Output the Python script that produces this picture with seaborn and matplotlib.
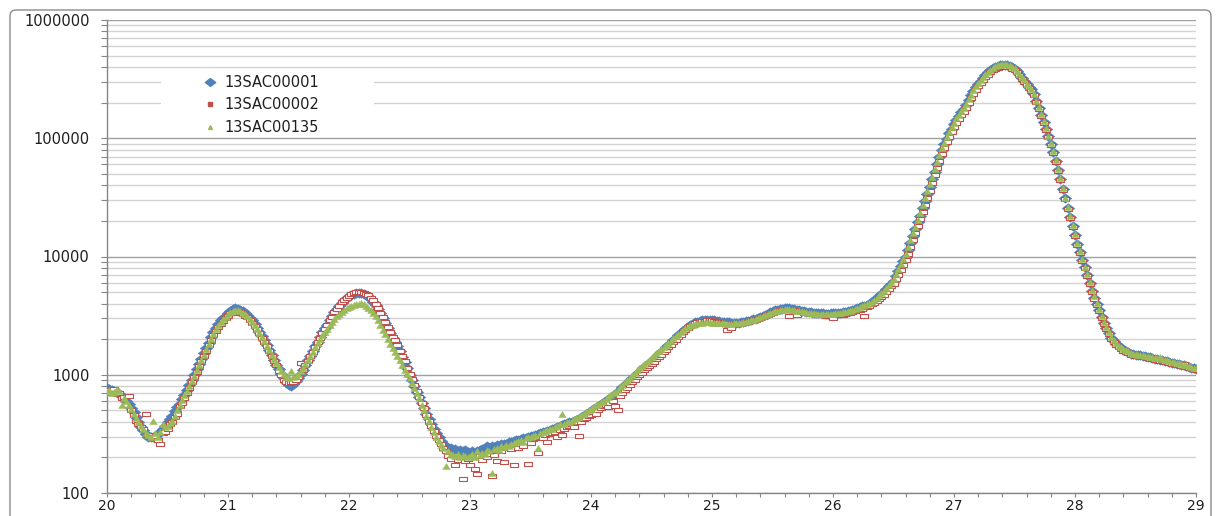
import numpy as np
import matplotlib
matplotlib.use("Agg")
import matplotlib.pyplot as plt
import seaborn as sns
from matplotlib.path import Path
from matplotlib.lines import Line2D
from matplotlib.patches import Rectangle, FancyBboxPatch
from matplotlib.transforms import IdentityTransform
from matplotlib.ticker import LogLocator, MultipleLocator, FuncFormatter, NullFormatter

# x grid (2-theta), one reading every 0.02
two_theta = np.round(np.linspace(20, 29, 451), 2)

series_names = ["13SAC00001", "13SAC00002", "13SAC00135"]

sac00001 = [
    770, 760, 745, 735, 715, 690, 660, 630, 600, 565,
    520, 480, 440, 400, 365, 340, 315, 300, 295, 300,
    305, 315, 325, 345, 370, 395, 420, 450, 490, 530,
    570, 620, 680, 740, 820, 900, 1000, 1110, 1240, 1370,
    1520, 1680, 1870, 2080, 2300, 2500, 2700, 2880, 3020, 3150,
    3300, 3450, 3580, 3650, 3620, 3550, 3430, 3300, 3180, 3030,
    2900, 2700, 2500, 2300, 2130, 1950, 1790, 1620, 1480, 1340,
    1220, 1110, 1020, 940, 870, 825, 810, 840, 880, 940,
    1010, 1100, 1200, 1320, 1450, 1590, 1740, 1910, 2100, 2300,
    2480, 2650, 2900, 3150, 3400, 3600, 3850, 4050, 4250, 4450,
    4600, 4720, 4820, 4900, 4950, 4920, 4850, 4750, 4600, 4400,
    4150, 3900, 3600, 3300, 3000, 2750, 2500, 2250, 2050, 1900,
    1750, 1580, 1420, 1270, 1130, 1000, 900, 810, 720, 650,
    580, 520, 470, 420, 380, 350, 320, 295, 275, 262,
    250, 242, 238, 232, 236, 228, 232, 225, 230, 222,
    218, 225, 215, 228, 232, 235, 242, 248, 240, 250,
    245, 255, 250, 262, 258, 262, 270, 268, 276, 282,
    280, 288, 292, 290, 300, 305, 302, 312, 318, 322,
    326, 330, 336, 342, 348, 352, 360, 366, 375, 380,
    388, 395, 400, 410, 418, 425, 436, 448, 462, 478,
    495, 510, 528, 545, 562, 580, 600, 620, 640, 660,
    685, 715, 750, 785, 820, 855, 895, 935, 975, 1020,
    1060, 1110, 1160, 1205, 1250, 1300, 1360, 1420, 1490, 1550,
    1620, 1700, 1780, 1870, 1960, 2050, 2150, 2250, 2350, 2450,
    2550, 2640, 2710, 2770, 2820, 2860, 2880, 2900, 2920, 2910,
    2900, 2890, 2860, 2840, 2820, 2800, 2780, 2770, 2760, 2750,
    2750, 2760, 2780, 2800, 2830, 2860, 2900, 2940, 2980, 3020,
    3070, 3140, 3210, 3290, 3370, 3440, 3500, 3560, 3600, 3630,
    3650, 3660, 3650, 3620, 3590, 3550, 3520, 3480, 3450, 3420,
    3400, 3380, 3360, 3340, 3320, 3310, 3300, 3290, 3290, 3300,
    3300, 3310, 3320, 3340, 3370, 3400, 3440, 3490, 3540, 3590,
    3650, 3710, 3780, 3850, 3920, 4000, 4120, 4260, 4420, 4600,
    4800, 5050, 5350, 5650, 5900, 6200, 6800, 7500, 8300, 9100,
    10000, 11400, 13000, 14900, 17000, 19500, 22000, 25500, 29500, 34000,
    39000, 45000, 52000, 60000, 69000, 79000, 89000, 99000, 110000, 120000,
    131000, 143000, 154000, 166000, 177000, 190000, 210000, 230000, 250000, 270000,
    288000, 305000, 325000, 345000, 360000, 375000, 390000, 402000, 410000, 416000,
    418000, 419000, 416000, 410000, 400000, 385000, 368000, 348000, 325000, 305000,
    285000, 270000, 260000, 235000, 205000, 180000, 157000, 137000, 120000, 104000,
    90000, 77000, 64000, 54000, 45000, 37000, 31000, 25500, 21500, 18000,
    15200, 12800, 11000, 9400, 8100, 7000, 6000, 5100, 4500, 4000,
    3550, 3100, 2750, 2480, 2250, 2060, 1920, 1820, 1740, 1680,
    1630, 1590, 1560, 1510, 1500, 1480, 1470, 1460, 1445, 1430,
    1420, 1400, 1390, 1370, 1360, 1340, 1330, 1310, 1300, 1280,
    1265, 1250, 1240, 1225, 1215, 1200, 1185, 1170, 1150, 1130,
    1110,
]

sac00002 = [
    740, 720, 700, 760, 690, 700, 640, 650, 560, 660,
    500, 460, 410, 380, 365, 350, 465, 310, 300, 290,
    300, 280, 262, 320, 330, 350, 380, 400, 440, 470,
    540, 580, 640, 700, 780, 860, 960, 1060, 1180, 1300,
    1450, 1600, 1780, 1950, 2150, 2350, 2550, 2700, 2850, 3000,
    3150, 3300, 3400, 3350, 3300, 3380, 3250, 3150, 3050, 2900,
    2750, 2600, 2450, 2250, 2050, 1900, 1750, 1600, 1450, 1300,
    1200, 1080, 990, 900, 860, 850, 860, 870, 900, 960,
    1250, 1100, 1200, 1300, 1430, 1560, 1720, 1880, 2060, 2250,
    2450, 2650, 2900, 3100, 3380, 3600, 3850, 4100, 4300, 4500,
    4650, 4800, 4900, 5000, 5050, 5000, 4950, 4850, 4700, 4500,
    4250, 3950, 3650, 3350, 3050, 2800, 2550, 2300, 2100, 1950,
    1780, 1600, 1450, 1300, 1150, 1020, 920, 820, 730, 650,
    580, 520, 460, 410, 370, 335, 305, 280, 260, 240,
    225, 205, 195, 210, 173, 190, 200, 131, 185, 195,
    173, 200, 160, 145, 205, 190, 210, 200, 215, 139,
    210, 187, 230, 225, 183, 240, 250, 235, 172, 255,
    240, 260, 250, 270, 175, 265, 285, 290, 218, 300,
    290, 310, 270, 315, 320, 330, 300, 340, 310, 350,
    360, 370, 380, 360, 395, 303, 400, 420, 430, 445,
    460, 480, 470, 500, 520, 540, 560, 530, 580, 600,
    540, 500, 660, 700, 740, 780, 820, 860, 900, 950,
    1000, 1040, 1090, 1140, 1190, 1240, 1290, 1350, 1410, 1480,
    1550, 1620, 1700, 1790, 1880, 1970, 2080, 2180, 2280, 2380,
    2480, 2580, 2660, 2730, 2780, 2820, 2850, 2870, 2880, 2890,
    2880, 2860, 2820, 2780, 2750, 2720, 2400, 2650, 2500, 2700,
    2680, 2690, 2710, 2740, 2770, 2800, 2840, 2880, 2920, 2960,
    3000, 3060, 3130, 3200, 3280, 3340, 3400, 3450, 3500, 3530,
    3550, 3560, 3160, 3540, 3500, 3200, 3450, 3400, 3350, 3320,
    3300, 3280, 3250, 3220, 3200, 3180, 3170, 3160, 3150, 3150,
    3000, 3170, 3180, 3200, 3230, 3260, 3300, 3340, 3390, 3440,
    3500, 3560, 3620, 3150, 3760, 3840, 3940, 4050, 4180, 4350,
    4520, 4750, 5000, 5300, 5600, 5900, 6400, 7000, 7700, 8500,
    9300, 10600, 12100, 13900, 15900, 18200, 20600, 23800, 27500, 31500,
    36000, 42000, 48500, 56000, 64000, 73000, 83000, 93000, 103000, 113000,
    124000, 135000, 146000, 157000, 168000, 180000, 198000, 218000, 238000, 258000,
    276000, 294000, 312000, 330000, 346000, 362000, 376000, 388000, 396000, 402000,
    404000, 405000, 402000, 397000, 388000, 375000, 360000, 342000, 320000, 300000,
    282000, 266000, 252000, 230000, 202000, 177000, 155000, 135000, 118000, 102000,
    88000, 75000, 63000, 53000, 44000, 36500, 30500, 25000, 21000, 17800,
    15000, 12600, 10800, 9200, 8000, 6900, 5900, 5000, 4400, 3900,
    3450, 3000, 2700, 2450, 2200, 2020, 1880, 1780, 1700, 1640,
    1590, 1560, 1530, 1480, 1470, 1450, 1440, 1430, 1400, 1420,
    1390, 1370, 1380, 1340, 1330, 1310, 1320, 1280, 1270, 1250,
    1240, 1230, 1210, 1200, 1190, 1230, 1170, 1150, 1130, 1110,
    1100,
]

sac00135 = [
    720, 740, 700, 710, 760, 730, 550, 640, 600, 560,
    510, 470, 430, 400, 370, 345, 320, 310, 300, 410,
    320, 300, 330, 380, 360, 370, 390, 410, 450, 500,
    560, 610, 670, 730, 810, 880, 980, 1090, 1210, 1340,
    1480, 1640, 1820, 2020, 2230, 2420, 2620, 2800, 2950, 3100,
    3250, 3380, 3480, 3520, 3500, 3450, 3350, 3240, 3120, 2980,
    2820, 2640, 2450, 2260, 2080, 1920, 1760, 1620, 1480, 1360,
    1250, 1160, 1080, 1010, 960, 940, 1070, 950, 980, 1020,
    1080, 1150, 1240, 1340, 1450, 1570, 1700, 1840, 1990, 2150,
    2300, 2450, 2620, 2800, 2960, 3120, 3280, 3420, 3550, 3650,
    3750, 3830, 3900, 3950, 3980, 4030, 3950, 3850, 3700, 3550,
    3350, 3150, 2900, 2650, 2400, 2200, 2000, 1820, 1680, 1560,
    1440, 1320, 1200, 1100, 1010, 930, 850, 770, 700, 630,
    560, 500, 450, 405, 365, 330, 300, 275, 255, 240,
    170, 225, 215, 210, 205, 215, 200, 210, 205, 200,
    205, 215, 200, 225, 210, 220, 215, 230, 225, 148,
    235, 240, 230, 250, 245, 255, 250, 260, 265, 270,
    275, 280, 270, 290, 300, 295, 305, 310, 240, 320,
    330, 335, 340, 350, 345, 360, 370, 380, 470, 385,
    395, 400, 410, 420, 430, 440, 455, 470, 485, 500,
    515, 530, 550, 565, 585, 605, 625, 650, 670, 695,
    720, 750, 785, 820, 860, 900, 945, 990, 1040, 1090,
    1140, 1190, 1240, 1290, 1340, 1400, 1460, 1520, 1580, 1640,
    1700, 1780, 1860, 1940, 2030, 2120, 2210, 2300, 2390, 2470,
    2550, 2610, 2660, 2700, 2730, 2750, 2760, 2770, 2780, 2770,
    2760, 2750, 2740, 2730, 2720, 2720, 2710, 2700, 2710, 2720,
    2730, 2740, 2750, 2780, 2810, 2850, 2890, 2930, 2980, 3030,
    3080, 3140, 3200, 3260, 3320, 3380, 3430, 3480, 3520, 3550,
    3570, 3580, 3570, 3550, 3520, 3490, 3460, 3430, 3400, 3370,
    3350, 3330, 3310, 3290, 3280, 3270, 3260, 3260, 3270, 3280,
    3290, 3300, 3320, 3340, 3370, 3400, 3440, 3490, 3540, 3600,
    3660, 3720, 3790, 3860, 3940, 4030, 4160, 4310, 4480, 4680,
    4900, 5150, 5450, 5750, 6050, 6400, 7050, 7800, 8600, 9500,
    10500, 12000, 13700, 15700, 17900, 20500, 23200, 27000, 31000, 35500,
    41000, 47000, 54500, 62500, 72000, 82000, 92000, 102000, 113000, 124000,
    135000, 147000, 158000, 170000, 181000, 194000, 214000, 234000, 254000, 274000,
    292000, 310000, 330000, 348000, 364000, 380000, 394000, 406000, 414000, 420000,
    422000, 423000, 420000, 413000, 403000, 389000, 372000, 352000, 330000, 310000,
    290000, 274000, 262000, 238000, 208000, 182000, 159000, 139000, 121000, 105000,
    91000, 78000, 65000, 55000, 46000, 38000, 31500, 26000, 22000, 18500,
    15500, 13000, 11200, 9600, 8200, 7100, 6100, 5200, 4600, 4050,
    3600, 3150, 2800, 2520, 2280, 2090, 1950, 1850, 1760, 1700,
    1650, 1610, 1580, 1530, 1510, 1490, 1480, 1470, 1460, 1440,
    1430, 1420, 1400, 1390, 1380, 1410, 1350, 1340, 1320, 1300,
    1290, 1280, 1260, 1250, 1230, 1220, 1200, 1190, 1170, 1150,
    1130,
]

blue, red, green = "#4F81BD", "#C0504D", "#9BBB59"

# Excel-like markers, a bit wider than tall
diamond = Path([(-1, 0), (0, 0.75), (1, 0), (0, -0.75), (-1, 0)],
               [Path.MOVETO, Path.LINETO, Path.LINETO, Path.LINETO, Path.CLOSEPOLY])
square = Path([(-1, -0.7), (1, -0.7), (1, 0.7), (-1, 0.7), (-1, -0.7)],
              [Path.MOVETO, Path.LINETO, Path.LINETO, Path.LINETO, Path.CLOSEPOLY])
triangle = Path([(-1, -0.8), (1, -0.8), (0, 0.8), (-1, -0.8)],
                [Path.MOVETO, Path.LINETO, Path.LINETO, Path.CLOSEPOLY])

plt.rcParams["font.family"] = ["DejaVu Sans"]
text_color = "#1f1f1f"
axis_color = "#868686"

fig = plt.figure(figsize=(12.16, 5.16), dpi=100)
ax = fig.add_axes([107 / 1216, 23 / 516, 1089 / 1216, 473 / 516])

sns.scatterplot(x=two_theta, y=sac00001, marker=diamond, s=85, color=blue,
                edgecolor=blue, linewidth=0.3, ax=ax, legend=False, zorder=3)
sns.scatterplot(x=two_theta, y=sac00002, marker=square, s=26, color="white",
                edgecolor=red, linewidth=0.8, ax=ax, legend=False, zorder=4)
sns.scatterplot(x=two_theta, y=sac00135, marker=triangle, s=32, color=green,
                edgecolor=green, linewidth=0.2, ax=ax, legend=False, zorder=5)

ax.set_yscale("log")
ax.set_ylim(100, 1000000)
ax.set_xlim(20, 29)
ax.yaxis.set_major_locator(LogLocator(base=10))
ax.yaxis.set_minor_locator(LogLocator(base=10, subs=np.arange(2, 10)))
ax.yaxis.set_major_formatter(FuncFormatter(lambda v, p: f"{int(round(v))}"))
ax.yaxis.set_minor_formatter(NullFormatter())
ax.xaxis.set_major_locator(MultipleLocator(1))
ax.xaxis.set_minor_locator(MultipleLocator(0.2))
ax.set_xlabel("")
ax.set_ylabel("")

ax.set_axisbelow(True)
ax.grid(True, which="major", axis="y", color="#a0a0a0", linewidth=1.0)
ax.grid(True, which="minor", axis="y", color="#d2d2d2", linewidth=1.0)
ax.grid(False, axis="x", which="both")

for side in ["top", "right"]:
    ax.spines[side].set_visible(False)
for side in ["left", "bottom"]:
    ax.spines[side].set_color(axis_color)
    ax.spines[side].set_linewidth(1.0)

ax.tick_params(axis="y", which="both", direction="out", length=4.5, width=0.8,
               color=axis_color, labelsize=10.5, labelcolor=text_color, pad=8)
ax.tick_params(axis="x", which="both", direction="out", length=3, width=0.8,
               color=axis_color, labelsize=10, labelcolor=text_color, pad=1)

# white block behind the legend hides the gridlines, like the Excel legend box
ax.add_patch(Rectangle((0.0496, 0.761), 0.196, 0.13, transform=ax.transAxes,
                       facecolor="white", edgecolor="none", zorder=1))

handles = [
    Line2D([], [], marker=diamond, linestyle="none", markersize=7.5, color=blue),
    Line2D([], [], marker="s", linestyle="none", markersize=2.4, color=red),
    Line2D([], [], marker="^", linestyle="none", markersize=2.8, color=green),
]
leg = ax.legend(handles, series_names, loc="upper left", bbox_to_anchor=(0.0882, 0.8845),
                frameon=False, fontsize=10.5, borderpad=0, handlelength=1.0,
                handletextpad=0.5, labelspacing=0.52, borderaxespad=0)
for t in leg.get_texts():
    t.set_color(text_color)

# rounded outer chart border
fig.add_artist(FancyBboxPatch((10, -20), 1201, 516 - 10 + 20,
                              boxstyle="round,pad=0,rounding_size=6",
                              transform=IdentityTransform(), facecolor="none",
                              edgecolor="#8c8c8c", linewidth=1.0))

fig.savefig("out.png", dpi=100)
